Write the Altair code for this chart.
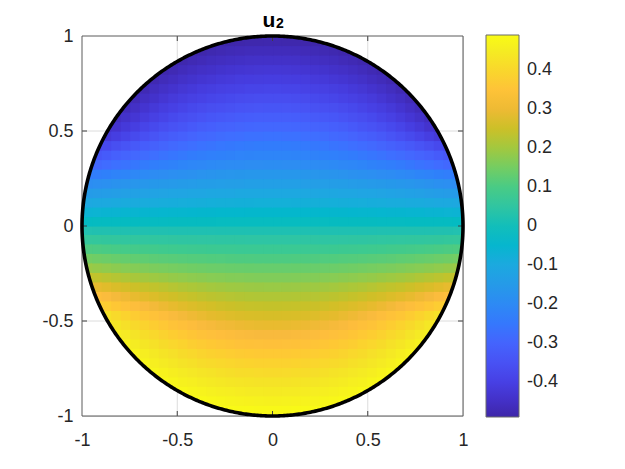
import altair as alt
import numpy as np
import pandas as pd

# ---------------- data ----------------
# u2 field, lower half of the disk (u2 is odd in y, even in x).
# rows: cell centres y = -0.025 ... -0.975 (step 0.05)
# cols: cell centres x = 0.025 ... 0.975 (step 0.05)
row_y = [-0.025, -0.075, -0.125, -0.175, -0.225, -0.275, -0.325, -0.375, -0.425, -0.475,
         -0.525, -0.575, -0.625, -0.675, -0.725, -0.775, -0.825, -0.875, -0.925, -0.975]
col_x = [0.025, 0.075, 0.125, 0.175, 0.225, 0.275, 0.325, 0.375, 0.425, 0.475,
         0.525, 0.575, 0.625, 0.675, 0.725, 0.775, 0.825, 0.875, 0.925, 0.975]
u2_lower = [
    [.015, .015, .015, .015, .015, .015, .016, .016, .016, .016, .016, .017, .017, .017, .018, .018, .018, .019, .019, .020],
    [.045, .045, .045, .046, .046, .046, .047, .047, .048, .049, .050, .051, .052, .053, .054, .055, .057, .058, .060, .061],
    [.075, .075, .076, .076, .077, .077, .078, .080, .081, .082, .084, .086, .088, .090, .092, .094, .097, .100, .103, .106],
    [.105, .105, .106, .106, .107, .109, .110, .112, .113, .115, .118, .120, .123, .126, .129, .133, .137, .141, .145, .149],
    [.135, .135, .136, .137, .138, .140, .141, .143, .146, .149, .152, .155, .158, .162, .167, .171, .176, .181, .186, .192],
    [.162, .162, .163, .165, .166, .169, .171, .174, .178, .182, .186, .191, .196, .201, .207, .214, .221, .228, .236, .242],
    [.190, .191, .192, .194, .196, .199, .202, .207, .211, .216, .222, .229, .236, .243, .252, .261, .270, .280, .290, .295],
    [.215, .216, .217, .219, .222, .226, .230, .235, .241, .248, .255, .263, .272, .281, .291, .302, .314, .326, .339, .340],
    [.240, .241, .243, .245, .249, .253, .259, .265, .272, .280, .289, .299, .309, .321, .333, .346, .360, .375, .385, .385],
    [.265, .266, .268, .271, .275, .281, .287, .294, .302, .312, .322, .333, .346, .359, .374, .389, .406, .423, .425, .425],
    [.292, .293, .295, .299, .303, .308, .315, .322, .331, .341, .351, .363, .376, .390, .405, .421, .439, .448, .448, .448],
    [.318, .319, .321, .325, .329, .334, .340, .348, .356, .366, .376, .388, .401, .415, .430, .445, .460, .460, .460, .460],
    [.342, .343, .345, .348, .353, .358, .364, .371, .379, .389, .399, .410, .423, .436, .451, .466, .468, .468, .468, .468],
    [.365, .366, .368, .371, .375, .380, .386, .393, .401, .410, .420, .431, .443, .455, .469, .473, .473, .473, .473, .473],
    [.387, .388, .390, .393, .397, .401, .407, .413, .421, .429, .439, .449, .460, .473, .476, .476, .476, .476, .476, .476],
    [.408, .409, .411, .413, .417, .421, .427, .433, .440, .448, .457, .467, .477, .479, .479, .479, .479, .479, .479, .479],
    [.428, .429, .431, .433, .436, .441, .446, .451, .458, .465, .474, .481, .481, .481, .481, .481, .481, .481, .481, .481],
    [.447, .448, .449, .452, .455, .459, .463, .469, .475, .482, .483, .483, .483, .483, .483, .483, .483, .483, .483, .483],
    [.465, .466, .467, .469, .472, .476, .480, .485, .486, .486, .486, .486, .486, .486, .486, .486, .486, .486, .486, .486],
    [.482, .483, .484, .486, .488, .488, .488, .488, .488, .488, .488, .488, .488, .488, .488, .488, .488, .488, .488, .488],
]
row_h = 0.05
col_w = 0.05

color_limits = [-0.49, 0.49]
cbar_ticks = [-0.4, -0.3, -0.2, -0.1, 0, 0.1, 0.2, 0.3, 0.4]
axis_ticks = [-1, -0.5, 0, 0.5, 1]
title_main = "u"
title_sub = "2"

# MATLAB parula colormap (64 entries)
parula = [
    (0.2422, 0.1504, 0.6603), (0.2504, 0.1650, 0.7076), (0.2578, 0.1818, 0.7511), (0.2647, 0.1978, 0.7952),
    (0.2706, 0.2147, 0.8364), (0.2751, 0.2342, 0.8710), (0.2783, 0.2559, 0.8991), (0.2803, 0.2782, 0.9221),
    (0.2813, 0.3006, 0.9414), (0.2810, 0.3228, 0.9579), (0.2795, 0.3447, 0.9717), (0.2760, 0.3667, 0.9829),
    (0.2699, 0.3892, 0.9906), (0.2602, 0.4123, 0.9952), (0.2440, 0.4358, 0.9988), (0.2206, 0.4603, 0.9973),
    (0.1963, 0.4847, 0.9892), (0.1834, 0.5074, 0.9798), (0.1786, 0.5289, 0.9682), (0.1764, 0.5499, 0.9520),
    (0.1687, 0.5703, 0.9359), (0.1540, 0.5902, 0.9218), (0.1460, 0.6091, 0.9079), (0.1380, 0.6276, 0.8973),
    (0.1248, 0.6459, 0.8883), (0.1113, 0.6635, 0.8763), (0.0952, 0.6798, 0.8598), (0.0689, 0.6948, 0.8394),
    (0.0297, 0.7082, 0.8163), (0.0036, 0.7203, 0.7917), (0.0067, 0.7312, 0.7660), (0.0433, 0.7411, 0.7394),
    (0.0964, 0.7500, 0.7120), (0.1408, 0.7584, 0.6842), (0.1717, 0.7670, 0.6554), (0.1938, 0.7758, 0.6251),
    (0.2161, 0.7843, 0.5923), (0.2470, 0.7918, 0.5567), (0.2906, 0.7973, 0.5188), (0.3406, 0.8008, 0.4789),
    (0.3909, 0.8029, 0.4354), (0.4456, 0.8024, 0.3909), (0.5044, 0.7993, 0.3480), (0.5616, 0.7942, 0.3045),
    (0.6174, 0.7876, 0.2612), (0.6720, 0.7793, 0.2227), (0.7242, 0.7698, 0.1910), (0.7738, 0.7598, 0.1646),
    (0.8203, 0.7498, 0.1535), (0.8634, 0.7406, 0.1596), (0.9035, 0.7330, 0.1774), (0.9393, 0.7288, 0.2100),
    (0.9728, 0.7298, 0.2394), (0.9956, 0.7434, 0.2371), (0.9970, 0.7659, 0.2199), (0.9952, 0.7893, 0.2028),
    (0.9892, 0.8136, 0.1885), (0.9786, 0.8386, 0.1766), (0.9676, 0.8639, 0.1643), (0.9610, 0.8890, 0.1537),
    (0.9597, 0.9135, 0.1423), (0.9628, 0.9373, 0.1265), (0.9691, 0.9606, 0.1064), (0.9769, 0.9839, 0.0805),
]
parula_hex = ["#%02x%02x%02x" % tuple(int(round(c * 255)) for c in rgb) for rgb in parula]
parula_dom = [float(v) for v in np.linspace(color_limits[0], color_limits[1], len(parula_hex))]

# ---------------- tables built from the arrays ----------------
ov = 0.003  # tiny overlap so neighbouring cells leave no hairline seams
cells = []
for yc, row in zip(row_y, u2_lower):
    for xc, v in zip(col_x, row):
        for sx in (1, -1):
            for sy in (1, -1):  # sy=-1 -> upper half mirror (odd in y)
                x0, x1 = sx * (xc - col_w / 2), sx * (xc + col_w / 2)
                y0, y1 = sy * (yc - row_h / 2), sy * (yc + row_h / 2)
                cells.append({"x0": max(-1.0, min(x0, x1) - ov), "x1": min(1.0, max(x0, x1) + ov),
                              "y0": max(-1.0, min(y0, y1) - ov), "y1": min(1.0, max(y0, y1) + ov),
                              "u": v if sy == 1 else -v})
cells_df = pd.DataFrame(cells)

t = np.linspace(0, 2 * np.pi, 721)
circle_df = pd.DataFrame({"cx": np.cos(t), "cy": np.sin(t), "o": np.arange(len(t))})

tc = np.linspace(0, np.pi, 721)
cap_top = pd.DataFrame({"mx": np.cos(tc), "my": np.sin(tc), "my2": 1.0})
cap_bot = pd.DataFrame({"mx": np.cos(tc), "my": -np.sin(tc), "my2": -1.0})

inner = [v for v in axis_ticks if abs(v) < 1]
grid_v = pd.DataFrame([{"g": v, "a": s * np.sqrt(1 - v * v), "b": s * 1.0}
                       for v in inner for s in (1, -1)])
ticks_df = pd.DataFrame({"tk": inner})
title_df = pd.DataFrame({"main": [title_main], "sub": [title_sub]})

# ---------------- chart ----------------
W, H = 381, 380
FONT = "Liberation Sans"
xs = alt.Scale(domain=[-1, 1], nice=False, zero=False)
ys = alt.Scale(domain=[-1, 1], nice=False, zero=False)
lab = "toString(datum.value)"

xaxis = alt.Axis(values=axis_ticks, labelExpr=lab, title=None, grid=False, ticks=False, domain=False,
                 labelFont=FONT, labelFontSize=18, labelColor="#262626", labelPadding=15,
                 labelFlush=False, labelOverlap=False)
yaxis = alt.Axis(values=axis_ticks, labelExpr=lab, title=None, grid=False, ticks=False, domain=False,
                 labelFont=FONT, labelFontSize=18, labelColor="#262626", labelPadding=9,
                 labelFlush=False, labelOverlap=False)

cscale = alt.Scale(domain=parula_dom, range=parula_hex, interpolate="rgb")

heat = alt.Chart(cells_df).mark_rect(strokeWidth=0).encode(
    x=alt.X("x0:Q", scale=xs, axis=xaxis),
    x2="x1:Q",
    y=alt.Y("y0:Q", scale=ys, axis=yaxis),
    y2="y1:Q",
    color=alt.Color("u:Q", scale=cscale, legend=alt.Legend(
        type="gradient",
        orient="none", legendX=404, legendY=-1, direction="vertical", title=None,
        gradientLength=382, gradientThickness=33, values=cbar_ticks, labelExpr=lab,
        labelFont=FONT, labelFontSize=18, labelColor="#262626", labelOffset=8,
        gradientStrokeColor="#6b6b6b", gradientStrokeWidth=1, padding=0)),
)

mask_top = alt.Chart(cap_top).mark_area(color="white").encode(
    x=alt.X("mx:Q", scale=xs), y=alt.Y("my:Q", scale=ys), y2="my2:Q")
mask_bot = alt.Chart(cap_bot).mark_area(color="white").encode(
    x=alt.X("mx:Q", scale=xs), y=alt.Y("my:Q", scale=ys), y2="my2:Q")

grid_col = "#dcdcdc"
gv = alt.Chart(grid_v).mark_rule(color=grid_col, strokeWidth=1).encode(
    x=alt.X("g:Q", scale=xs), y=alt.Y("a:Q", scale=ys), y2="b:Q")
gh = alt.Chart(grid_v).mark_rule(color=grid_col, strokeWidth=1).encode(
    y=alt.Y("g:Q", scale=ys), x=alt.X("a:Q", scale=xs), x2="b:Q")

tick_col = "#404040"
tk_bot = alt.Chart(ticks_df).mark_rule(color=tick_col, strokeWidth=1).encode(
    x=alt.X("tk:Q", scale=xs), y=alt.value(H), y2=alt.value(H - 5))
tk_top = alt.Chart(ticks_df).mark_rule(color=tick_col, strokeWidth=1).encode(
    x=alt.X("tk:Q", scale=xs), y=alt.value(0), y2=alt.value(5))
tk_left = alt.Chart(ticks_df).mark_rule(color=tick_col, strokeWidth=1).encode(
    y=alt.Y("tk:Q", scale=ys), x=alt.value(0), x2=alt.value(5))
tk_right = alt.Chart(ticks_df).mark_rule(color=tick_col, strokeWidth=1).encode(
    y=alt.Y("tk:Q", scale=ys), x=alt.value(W), x2=alt.value(W - 5))

box_col = "#5a5a5a"
box = [
    alt.Chart(title_df).mark_rule(color=box_col, strokeWidth=1).encode(
        x=alt.value(0), x2=alt.value(W), y=alt.value(0)),
    alt.Chart(title_df).mark_rule(color=box_col, strokeWidth=1).encode(
        x=alt.value(0), x2=alt.value(W), y=alt.value(H)),
    alt.Chart(title_df).mark_rule(color=box_col, strokeWidth=1).encode(
        x=alt.value(0), y=alt.value(0), y2=alt.value(H)),
    alt.Chart(title_df).mark_rule(color=box_col, strokeWidth=1).encode(
        x=alt.value(W), y=alt.value(0), y2=alt.value(H)),
]

circle = alt.Chart(circle_df).mark_line(color="black", strokeWidth=3.6).encode(
    x=alt.X("cx:Q", scale=xs), y=alt.Y("cy:Q", scale=ys), order="o:Q")

t_main = alt.Chart(title_df).mark_text(align="left", baseline="alphabetic", font=FONT, fontSize=21,
                                       fontWeight="bold", color="black").encode(
    x=alt.value(180.5), y=alt.value(-9), text="main:N")
t_sub = alt.Chart(title_df).mark_text(align="left", baseline="alphabetic", font=FONT, fontSize=14,
                                      fontWeight="bold", color="black").encode(
    x=alt.value(194), y=alt.value(-8.3), text="sub:N")

chart = alt.layer(heat, mask_top, mask_bot, gv, gh, tk_bot, tk_top, tk_left, tk_right,
                  *box, circle, t_main, t_sub).properties(
    width=W, height=H,
    autosize=alt.AutoSizeParams(type="none"),
    padding={"left": 74, "top": 28, "right": 150, "bottom": 42},
).configure_view(stroke=None).configure(background="white")

chart.save("out.html", embed_options={"renderer": "svg", "actions": False})
